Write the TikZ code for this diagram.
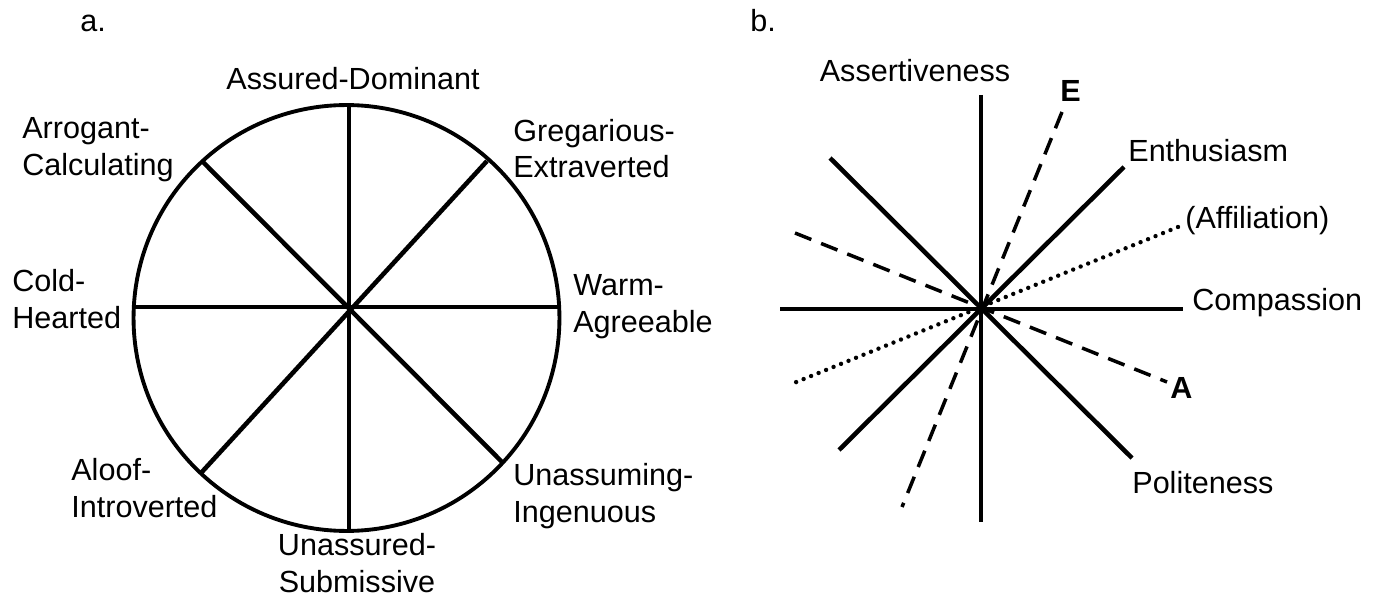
\documentclass[tikz,border=0pt]{standalone}
\usepackage{fontspec}
\setmainfont{Liberation Sans}
\usetikzlibrary{positioning}

\begin{document}
\begin{tikzpicture}[x=0.02cm,y=-0.02cm,
            lbl/.style={inner sep=0pt,align=left,
                        font=\fontsize{17.4}{21}\selectfont},
            lett/.style={inner sep=0pt,font=\fontsize{17.4}{21}\selectfont\bfseries},
            spoke/.style={line width=2.6pt},
            rim/.style={line width=2.2pt},
            dashax/.style={line width=2pt,dash pattern=on 10pt off 6pt},
            dotax/.style={line width=2.5pt,line cap=round,
                          dash pattern=on 0pt off 4.6pt}]
            \useasboundingbox (0,0) rectangle (1374,598);
            % a.
            \coordinate (ctr) at (346.5,318);
            \coordinate (top) at (349,105);  \coordinate (bot) at (349,531);
            \coordinate (lft) at (134,307);  \coordinate (rgt) at (559,307);
            \coordinate (ul)  at (202,161);  \coordinate (lr)  at (502,462);
            \coordinate (ur)  at (487,161);  \coordinate (ll)  at (201,473);
            \draw[rim] (ctr) circle [radius=4.26cm];
            \draw[spoke] (top)--(bot); \draw[spoke] (lft)--(rgt);
            \draw[spoke] (ul)--(lr);   \draw[spoke] (ur)--(ll);
            \node[lbl,anchor=base west] (pa)  at (80,32)   {a.};
            \node[lbl,anchor=base] (dom) at (353,90)  {Assured-Dominant};
            \node[lbl,anchor=base west] (arr) at (22,175)  {Arrogant-\\Calculating};
            \node[lbl,anchor=base west] (gre) at (513,178) {Gregarious-\\Extraverted};
            \node[lbl,anchor=base west] (col) at (12,328)  {Cold-\\Hearted};
            \node[lbl,anchor=base west] (wrm) at (573,332) {Warm-\\Agreeable};
            \node[lbl,anchor=base west] (alo) at (71,517)  {Aloof-\\Introverted};
            \node[lbl,anchor=base west] (una) at (513,522) {Unassuming-\\Ingenuous};
            \node[lbl,anchor=base,align=center] (sub) at (357,592) {Unassured-\\Submissive};
            % b.
            \coordinate (hub) at (981,309);
            \coordinate (vt) at (981,95);    \coordinate (vb) at (981,522);
            \coordinate (hl) at (780,309);   \coordinate (hr) at (1183,309);
            \coordinate (pl) at (830,158);   \coordinate (pr) at (1132,458);
            \coordinate (en) at (1124,167);  \coordinate (eb) at (839,450);
            \coordinate (et) at (1062,112);  \coordinate (ed) at (902,507);
            \coordinate (al) at (795,233);   \coordinate (ar) at (1167,382);
            \coordinate (ft) at (1178,227);  \coordinate (fb) at (789,385);
            \draw[spoke] (vt)--(vb); \draw[spoke] (hl)--(hr);
            \draw[spoke] (pl)--(pr); \draw[spoke] (en)--(eb);
            \draw[dashax] (et)--(ed); \draw[dashax] (al)--(ar);
            \draw[dotax] (ft)--(fb);
            \fill (hub) circle [radius=0.09cm];
            \node[lbl,anchor=base west] (pb)  at (750,32)   {b.};
            \node[lbl,anchor=base] (ass) at (915,82)  {Assertiveness};
            \node[lett,anchor=base west] (E) at (1060,102) {E};
            \node[lbl,anchor=base west] (ent) at (1128,162) {Enthusiasm};
            \node[lbl,anchor=base west] (aff) at (1185,229) {(Affiliation)};
            \node[lbl,anchor=base west] (com) at (1192,310) {Compassion};
            \node[lett,anchor=base west] (A) at (1170,398) {A};
            \node[lbl,anchor=base west] (pol) at (1132,493) {Politeness};
        \end{tikzpicture}
\end{document}
